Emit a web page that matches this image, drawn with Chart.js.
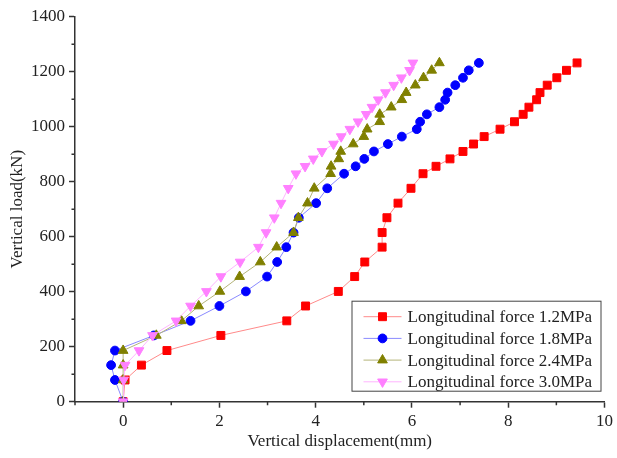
<!DOCTYPE html>
<html>
<head>
<meta charset="utf-8">
<script src="https://cdn.jsdelivr.net/npm/chart.js@4.4.1/dist/chart.umd.min.js"></script>
<style>
  html, body { margin: 0; padding: 0; background: #fff; }
  #wrap { width: 617px; height: 458px; }
</style>
</head>
<body>
<div id="wrap"><canvas id="chart"></canvas></div>
<script>
// vertical load steps (kN), shared by every test
const loads = [0, 79, 133, 186, 241, 294, 348, 401, 455, 508, 562, 615, 669, 722, 776, 829,
               856, 883, 910, 937, 964, 991, 1018, 1045, 1071, 1098, 1124, 1151, 1178, 1205, 1232];

// vertical displacement (mm) at each load step
const disp12 = [0, 0.04, 0.38, 0.91, 2.03, 3.40, 3.79, 4.47, 4.81, 5.02, 5.38, 5.38, 5.48, 5.71, 5.98, 6.23,
                6.50, 6.79, 7.06, 7.28, 7.50, 7.83, 8.13, 8.31, 8.43, 8.59, 8.66, 8.81, 9.01, 9.21, 9.43];
const disp18 = [0, -0.17, -0.25, -0.17, 0.64, 1.40, 2.00, 2.55, 2.99, 3.20, 3.39, 3.54, 3.65, 4.01, 4.24, 4.59,
                4.83, 5.01, 5.21, 5.50, 5.79, 6.10, 6.17, 6.31, 6.57, 6.69, 6.74, 6.90, 7.06, 7.18, 7.39];
const disp24 = [0, 0, 0, 0, 0.69, 1.21, 1.57, 2.01, 2.42, 2.85, 3.19, 3.54, 3.64, 3.83, 3.97, 4.31,
                4.32, 4.48, 4.52, 4.78, 5.00, 5.07, 5.33, 5.33, 5.57, 5.79, 5.88, 6.07, 6.24, 6.41, 6.57];
const disp30 = [0, 0.01, 0.04, 0.33, 0.61, 1.10, 1.40, 1.73, 2.03, 2.43, 2.81, 2.97, 3.14, 3.28, 3.43, 3.59,
                3.78, 3.95, 4.13, 4.37, 4.53, 4.71, 4.88, 5.05, 5.17, 5.30, 5.45, 5.62, 5.78, 5.95, 6.02];

const seriesNames = ['Longitudinal force 1.2MPa', 'Longitudinal force 1.8MPa',
                     'Longitudinal force 2.4MPa', 'Longitudinal force 3.0MPa'];

const FONT = '"Liberation Serif", "Times New Roman", serif';
const INK = '#222';

function series(idx, disp, color, lineColor, style, radius, rotation) {
    return {
        label: seriesNames[idx],
        data: loads.map((y, i) => ({ x: disp[i], y: y })),
        borderColor: lineColor,
        borderWidth: 1,
        backgroundColor: color,
        pointBackgroundColor: color,
        pointBorderColor: color,
        pointBorderWidth: 1,
        pointStyle: style,
        pointRadius: radius,
        pointRotation: rotation || 0,
        showLine: true,
        tension: 0,
        order: 3 - idx
    };
}

// small ticks between the labelled ones
const minorTicks = {
    id: 'minorTicks',
    afterDraw(chart) {
        const { ctx, scales: { x, y } } = chart;
        ctx.save();
        ctx.strokeStyle = '#333';
        ctx.lineWidth = 1.5;
        ctx.beginPath();
        for (let v = -1; v <= 10; v += 2) {
            const px = x.getPixelForValue(v);
            ctx.moveTo(px, y.bottom);
            ctx.lineTo(px, y.bottom + 3.5);
        }
        for (let v = 100; v < 1400; v += 200) {
            const py = y.getPixelForValue(v);
            ctx.moveTo(x.left, py);
            ctx.lineTo(x.left - 3.5, py);
        }
        ctx.stroke();
        ctx.restore();
    }
};

// framed legend with line + marker samples
const boxLegend = {
    id: 'boxLegend',
    afterDraw(chart) {
        const { ctx, chartArea } = chart;
        const w = 249, h = 90;
        const left = chartArea.right - 4 - w;
        const top = chartArea.bottom - 11 - h;
        ctx.save();
        ctx.fillStyle = '#fff';
        ctx.fillRect(left, top, w, h);
        ctx.strokeStyle = '#444';
        ctx.lineWidth = 1;
        ctx.strokeRect(left + 0.5, top + 0.5, w, h);
        chart.data.datasets.forEach((ds, i) => {
            const cy = top + 16 + i * 21.7;
            ctx.strokeStyle = ds.borderColor;
            ctx.lineWidth = 1;
            ctx.beginPath();
            ctx.moveTo(left + 12, cy);
            ctx.lineTo(left + 50, cy);
            ctx.stroke();
            ctx.fillStyle = ds.pointBackgroundColor;
            ctx.strokeStyle = ds.pointBorderColor;
            Chart.helpers.drawPoint(ctx, {
                pointStyle: ds.pointStyle,
                radius: ds.pointRadius,
                rotation: ds.pointRotation,
                borderWidth: 1
            }, left + 31, cy);
            ctx.fillStyle = INK;
            ctx.font = '17px ' + FONT;
            ctx.textBaseline = 'middle';
            ctx.textAlign = 'left';
            ctx.fillText(ds.label, left + 56, cy + 1);
        });
        ctx.restore();
    }
};

new Chart(document.getElementById('chart'), {
    type: 'scatter',
    data: {
        datasets: [
            series(0, disp12, '#ff0000', '#ff8a8a', 'rect', 5.6),
            series(1, disp18, '#0000ff', '#8a8aff', 'circle', 4.4),
            series(2, disp24, '#808000', '#b4b47a', 'triangle', 5.6),
            series(3, disp30, '#ff80ff', '#ffb4ff', 'triangle', 5.6, 180)
        ]
    },
    options: {
        responsive: true,
        maintainAspectRatio: false,
        animation: false,
        layout: { padding: { top: 16.7, right: 10.3, left: 0, bottom: 0 } },
        plugins: { legend: { display: false }, tooltip: { enabled: false } },
        scales: {
            x: {
                type: 'linear',
                min: -1, max: 10,
                afterFit: s => { s.height = 56.3; },
                border: { display: true, color: '#333', width: 1.5 },
                grid: {
                    drawOnChartArea: false, drawTicks: true, tickLength: 6, tickWidth: 1.5,
                    tickColor: c => (c.tick && c.tick.value % 2 === 0) ? '#333' : 'rgba(0,0,0,0)'
                },
                ticks: {
                    stepSize: 1, autoSkip: false, maxRotation: 0, padding: 4,
                    color: INK, font: { family: FONT, size: 17 },
                    callback: v => (v % 2 === 0 ? v : '')
                },
                title: {
                    display: true, text: 'Vertical displacement(mm)', color: INK,
                    font: { family: FONT, size: 17 }, padding: { top: 6, bottom: 6 }
                }
            },
            y: {
                type: 'linear',
                min: 0, max: 1400,
                afterFit: s => { s.width = 75; },
                border: { display: true, color: '#333', width: 1.5 },
                grid: {
                    drawOnChartArea: false, drawTicks: true, tickLength: 6, tickWidth: 1.5,
                    tickColor: c => (c.tick && c.tick.value % 200 === 0) ? '#333' : 'rgba(0,0,0,0)'
                },
                ticks: {
                    stepSize: 100, autoSkip: false, padding: 4,
                    color: INK, font: { family: FONT, size: 17 },
                    callback: v => (v % 200 === 0 ? v : '')
                },
                title: {
                    display: true, text: 'Vertical load(kN)', color: INK,
                    font: { family: FONT, size: 17 }, padding: { top: 7, bottom: 7 }
                }
            }
        }
    },
    plugins: [minorTicks, boxLegend]
});
</script>
</body>
</html>
